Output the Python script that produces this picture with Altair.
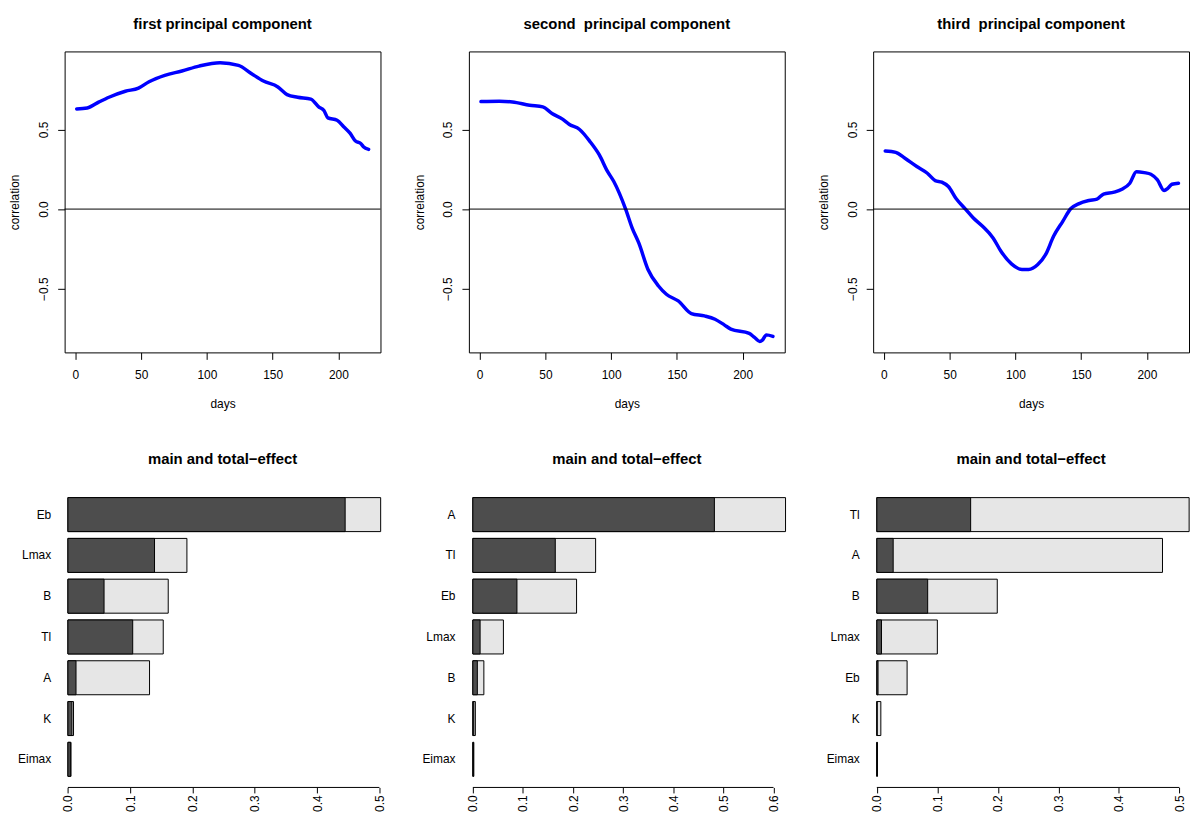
import altair as alt
import pandas as pd

# ---------------- data ----------------
days_1 = [1, 9, 18, 26, 38, 48, 56, 68, 81, 94, 110, 124, 134, 143, 154, 161, 169, 179, 185, 189, 192, 199, 204, 209, 213, 217, 219, 223]
corr_1 = [0.629, 0.635, 0.673, 0.704, 0.74, 0.76, 0.80, 0.84, 0.867, 0.898, 0.919, 0.902, 0.85, 0.804, 0.767, 0.719, 0.702, 0.69, 0.642, 0.619, 0.573, 0.558, 0.517, 0.475, 0.427, 0.412, 0.392, 0.375]

days_2 = [1, 15, 25, 38, 48, 55, 63, 68, 76, 84, 91, 97, 102, 111, 116, 121, 128, 136, 142, 151, 161, 171, 179, 186, 191, 205, 209, 213, 215, 218, 223]
corr_2 = [0.675, 0.677, 0.673, 0.652, 0.642, 0.60, 0.565, 0.533, 0.50, 0.423, 0.34, 0.24, 0.173, 0.0, -0.119, -0.2125, -0.379, -0.483, -0.535, -0.577, -0.656, -0.671, -0.692, -0.727, -0.754, -0.781, -0.806, -0.831, -0.823, -0.79, -0.80]

days_3 = [1, 9, 16, 25, 33, 39, 44, 49, 55, 62, 68, 75, 83, 89, 97, 105, 110, 117, 123, 129, 136, 142, 148, 156, 162, 167, 175, 181, 187, 192, 198, 203, 208, 213, 216, 219, 224]
corr_3 = [0.365, 0.356, 0.319, 0.267, 0.225, 0.179, 0.169, 0.142, 0.065, 0.0, -0.056, -0.108, -0.181, -0.265, -0.344, -0.379, -0.379, -0.348, -0.285, -0.171, -0.077, 0.002, 0.033, 0.054, 0.0625, 0.094, 0.106, 0.125, 0.1625, 0.235, 0.229, 0.219, 0.183, 0.117, 0.131, 0.156, 0.1625]

params_1 = ["Eb", "Lmax", "B", "Tl", "A", "K", "Eimax"]
main_1 = [0.445, 0.139, 0.058, 0.104, 0.013, 0.0065, 0.004]
total_1 = [0.502, 0.191, 0.161, 0.153, 0.131, 0.009, 0.005]

params_2 = ["A", "Tl", "Eb", "Lmax", "B", "K", "Eimax"]
main_2 = [0.482, 0.1645, 0.088, 0.0145, 0.009, 0.002, 0.001]
total_2 = [0.624, 0.245, 0.207, 0.061, 0.022, 0.005, 0.002]

params_3 = ["Tl", "A", "B", "Lmax", "Eb", "K", "Eimax"]
main_3 = [0.155, 0.027, 0.084, 0.0077, 0.002, 0.0005, 0.0002]
total_3 = [0.516, 0.472, 0.199, 0.100, 0.050, 0.0066, 0.001]

top_titles = ["first principal component",
              "second\u00a0 principal component",
              "third\u00a0 principal component"]
bar_title = "main and total\u2212effect"

day_ticks = [0, 50, 100, 150, 200]
corr_ticks = [-0.5, 0.0, 0.5]
bar_ticks_1 = [0.0, 0.1, 0.2, 0.3, 0.4, 0.5]
bar_ticks_2 = [0.0, 0.1, 0.2, 0.3, 0.4, 0.5, 0.6]
bar_ticks_3 = [0.0, 0.1, 0.2, 0.3, 0.4, 0.5]

# ---------------- styling ----------------
FONT = "Liberation Sans"
W, H = 318, 303
X_DOM = [-8.2, 232.0]
Y_DOM = [-0.90, 0.99]


def title_params(text):
    return alt.TitleParams(text=text, font=FONT, fontSize=15, fontWeight="bold",
                           color="black", anchor="middle", frame="group",
                           baseline="alphabetic", offset=7.5)


def line_panel(days, corr, title):
    df = pd.DataFrame({"days": days, "corr": corr})
    xs = alt.Scale(domain=X_DOM, nice=False, zero=False)
    ys = alt.Scale(domain=Y_DOM, nice=False, zero=False)
    xaxis = alt.Axis(values=day_ticks, title="days", domain=False, grid=False,
                     tickSize=7, labelPadding=10, titlePadding=18, labelFlush=False)
    yaxis = alt.Axis(values=corr_ticks, format=".1f", title="correlation",
                     domain=False, grid=False, tickSize=7, labelAngle=270,
                     labelAlign="center", labelBaseline="bottom",
                     labelPadding=7, titlePadding=16, labelFlush=False)
    line = alt.Chart(df).mark_line(
        color="#0000FF", strokeWidth=3.5, interpolate="monotone",
        strokeCap="round", strokeJoin="round"
    ).encode(
        x=alt.X("days:Q", scale=xs, axis=xaxis),
        y=alt.Y("corr:Q", scale=ys, axis=yaxis),
    )
    zero = alt.Chart(pd.DataFrame({"corr": [0.0]})).mark_rule(
        color="black", strokeWidth=1
    ).encode(y=alt.Y("corr:Q", scale=ys, axis=yaxis))
    return alt.layer(line, zero).properties(
        width=W, height=H, title=title_params(title),
        view=alt.ViewBackground(stroke="black", strokeWidth=1),
    )


def bar_panel(params, main, total, ticks, xdom):
    df = pd.DataFrame({"param": params, "main": main, "total": total})
    ys = alt.Scale(domain=params, paddingInner=0.1667, paddingOuter=0.273)
    xs = alt.Scale(domain=xdom, nice=False, zero=False)
    yaxis = alt.Axis(title=None, ticks=False, tickSize=0, domain=False, grid=False,
                     labelPadding=14, labelFontSize=12)
    xaxis = alt.Axis(values=ticks, format=".1f", title=None, domain=False, grid=False,
                     tickSize=5.5, labelAngle=270, labelAlign="right",
                     labelBaseline="middle", labelPadding=2, labelFlush=False)
    tot = alt.Chart(df).mark_bar(color="#E6E6E6", stroke="black", strokeWidth=1).encode(
        x=alt.X("total:Q", scale=xs, axis=xaxis),
        x2=alt.datum(0),
        y=alt.Y("param:N", scale=ys, sort=params, axis=yaxis),
    )
    mn = alt.Chart(df).mark_bar(color="#4D4D4D", stroke="black", strokeWidth=1).encode(
        x=alt.X("main:Q", scale=xs, axis=xaxis),
        x2=alt.datum(0),
        y=alt.Y("param:N", scale=ys, sort=params, axis=yaxis),
    )
    axis_df = pd.DataFrame({"total": [ticks[0]], "end": [ticks[-1]]})
    axis_line = alt.Chart(axis_df).mark_rule(color="black", strokeWidth=1).encode(
        x=alt.X("total:Q", scale=xs, axis=xaxis),
        x2="end:Q",
        y=alt.value(H),
    )
    return alt.layer(tot, mn, axis_line).properties(
        width=W, height=H, title=title_params(bar_title),
    )


p1 = line_panel(days_1, corr_1, top_titles[0])
p2 = line_panel(days_2, corr_2, top_titles[1])
p3 = line_panel(days_3, corr_3, top_titles[2])
b1 = bar_panel(params_1, main_1, total_1, bar_ticks_1, [-0.0053, 0.5017])
b2 = bar_panel(params_2, main_2, total_2, bar_ticks_2, [-0.0079, 0.6224])
b3 = bar_panel(params_3, main_3, total_3, bar_ticks_3, [-0.0061, 0.5158])

chart = alt.concat(
    p1, p2, p3, b1, b2, b3,
    columns=3,
    spacing=alt.RowColnumber(row=135, column=89),
    bounds="flush",
).properties(
    autosize=alt.AutoSizeParams(type="none"),
    padding={"left": 57, "top": 41, "right": 1133, "bottom": 765},
    background="white",
).configure_view(
    stroke="transparent"
).configure_axis(
    labelFont=FONT, titleFont=FONT, labelColor="black", titleColor="black",
    tickColor="black", tickWidth=1, grid=False, labelFontSize=12,
    titleFontSize=12, titleFontWeight="normal",
)

chart.save("out.html", embed_options={"renderer": "svg", "actions": False})
